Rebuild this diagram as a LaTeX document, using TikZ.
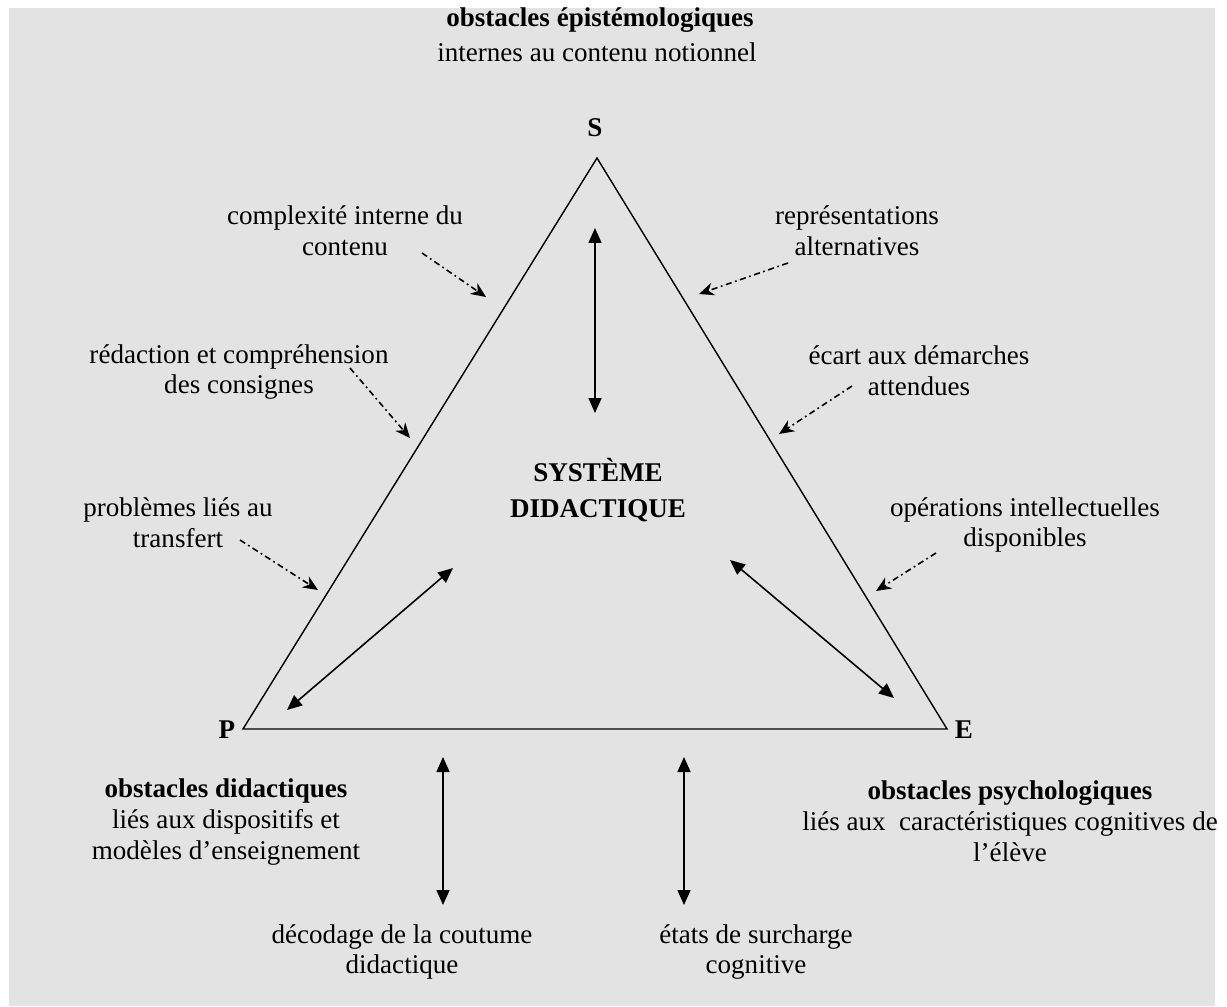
\documentclass[tikz,border=0pt]{standalone}
\usepackage{fontspec}
\setmainfont{Liberation Serif}
\usepackage{xcolor}
\usepackage{tikz}
\usetikzlibrary{arrows.meta,positioning,calc}
\definecolor{softgray}{RGB}{227,227,227}

\begin{document}
\begin{tikzpicture}[
  x=0.02cm,y=-0.02cm,
  txt/.style={align=center,inner sep=0pt,font=\fontsize{15.4}{17.6}\selectfont},
  head/.style={txt,font=\fontsize{15.4}{17.6}\selectfont\bfseries},
  corner/.style={inner sep=0pt,font=\fontsize{15.4}{17.6}\selectfont\bfseries},
  side/.style={line width=0.8pt},
  arrow/.style={{Triangle[length=3mm,width=2.6mm]}-{Triangle[length=3mm,width=2.6mm]},line width=0.9pt},
  hint/.style={-{Stealth[length=3mm,width=2.6mm]},line width=0.9pt,
    dash pattern=on 3.5pt off 2pt on 1pt off 2pt}
]
\useasboundingbox (0,0) rectangle (1227,1007);
\fill[softgray] (9,8) rectangle (1215,1006);

% triangle
\coordinate (S) at (597,158);
\coordinate (P) at (243,729);
\coordinate (E) at (947,729);
\draw[side] (S) -- (P) -- (E) -- cycle;
\node[corner] (slabel) at (595,128) {S};
\node[corner] (plabel) at (227,730) {P};
\node[corner] (elabel) at (964,730) {E};

% poles
\node[head] (epis) at (600,20) {obstacles épistémologiques};
\node[txt] (episnote) at (597,52) {internes au contenu notionnel};
\node[head] (syst) at (598,490) {SYSTÈME\\[3pt]DIDACTIQUE};
\node[txt] (didac) at (226,822) {\textbf{obstacles didactiques}\\liés aux dispositifs et\\modèles d’enseignement};
\node[txt] (psy) at (1010,821) {\textbf{obstacles psychologiques}\\liés aux\ \ caractéristiques cognitives de\\l’élève};

% side labels
\node[txt] (complex) at (345,231) {complexité interne du\\contenu};
\node[txt] (redac) at (239,372) {rédaction et compréhension\\des consignes};
\node[txt] (transf) at (178,523) {problèmes liés au\\transfert};
\node[txt] (repres) at (857,231) {représentations\\alternatives};
\node[txt] (ecart) at (919,371) {écart aux démarches\\attendues};
\node[txt] (operat) at (1025,525) {opérations intellectuelles\\disponibles};
\node[txt] (decod) at (402,952) {décodage de la coutume\\didactique};
\node[txt] (surch) at (756,952) {états de surcharge\\cognitive};

% arrow ends
\coordinate (a1) at (595,228); \coordinate (a2) at (595,413);
\coordinate (b1) at (453,568); \coordinate (b2) at (287,710);
\coordinate (c1) at (730,560); \coordinate (c2) at (894,698);
\coordinate (d1) at (443,757); \coordinate (d2) at (443,905);
\coordinate (e1) at (684,757); \coordinate (e2) at (684,905);
\coordinate (t1) at (486,297); \coordinate (t2) at (410,438);
\coordinate (t3) at (318,590); \coordinate (t4) at (699,294);
\coordinate (t5) at (779,434); \coordinate (t6) at (876,591);

\draw[arrow] (a1) -- (a2);
\draw[arrow] (b1) -- (b2);
\draw[arrow] (c1) -- (c2);
\draw[arrow] (d1) -- (d2);
\draw[arrow] (e1) -- (e2);

\draw[hint] (422,253) -- (t1);
\draw[hint] (350,368) -- (t2);
\draw[hint] (240,540) -- (t3);
\draw[hint] (788,263) -- (t4);
\draw[hint] (852,386) -- (t5);
\draw[hint] (936,553) -- (t6);
\end{tikzpicture}
\end{document}
